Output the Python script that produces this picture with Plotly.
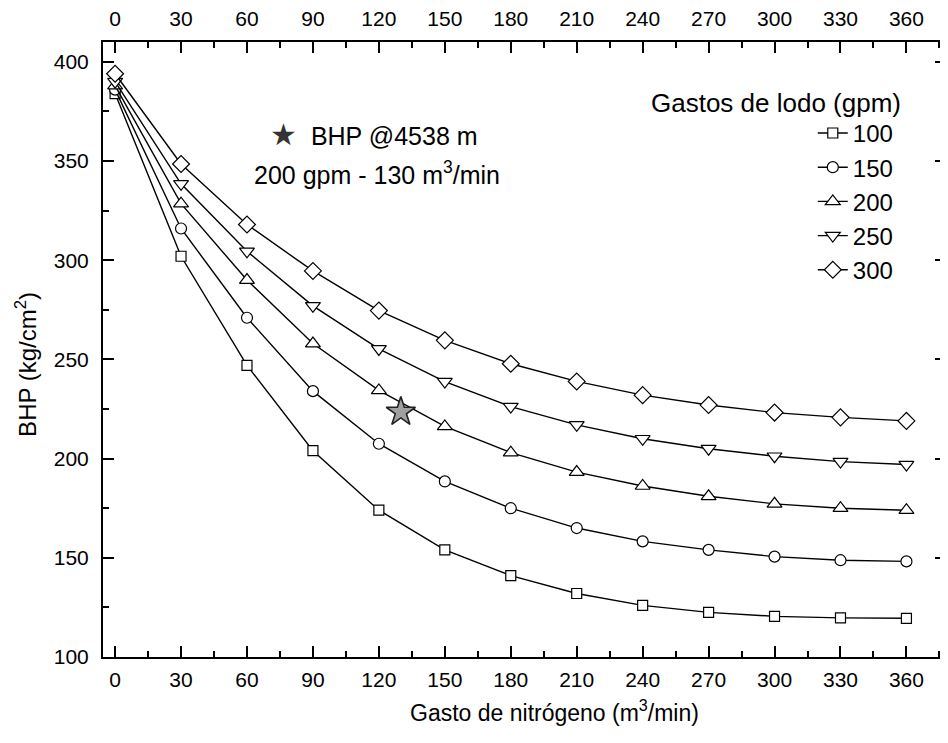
import plotly.graph_objects as go

gasto_n2 = [0, 30, 60, 90, 120, 150, 180, 210, 240, 270, 300, 330, 360]
bhp_100 = [384, 302, 247, 204, 174, 154, 141, 132, 126, 122.5, 120.5, 119.7, 119.5]
bhp_150 = [386, 316, 271, 234, 207.5, 188.5, 175, 165, 158.3, 154, 150.6, 148.8, 148.2]
bhp_200 = [388, 328.5, 290, 258, 234.4, 216.2, 203, 193.2, 186.2, 181, 177.2, 175, 174]
bhp_250 = [390, 338.5, 304.5, 277, 255.3, 238.8, 226.2, 217, 210, 205, 201.2, 198.5, 197]
bhp_300 = [394, 348.5, 318, 294.6, 274.6, 259.6, 247.8, 238.9, 232, 227, 223.2, 220.8, 219]
series_names = ["100", "150", "200", "250", "300"]
series_values = [bhp_100, bhp_150, bhp_200, bhp_250, bhp_300]
symbols = ["square", "circle", "triangle-up", "triangle-down", "diamond"]
sizes = [10, 11, 13, 13, 13]

star_x = [130]
star_y = [223.5]

x_ticks = list(range(0, 361, 30))
y_ticks = [100, 150, 200, 250, 300, 350, 400]

FONT = "Liberation Sans, Arial, sans-serif"

fig = go.Figure()
for name, vals, sym, sz in zip(series_names, series_values, symbols, sizes):
    fig.add_trace(go.Scatter(
        x=gasto_n2, y=vals, name=name, mode="lines+markers",
        line=dict(color="black", width=1.4),
        marker=dict(symbol=sym, size=sz, color="white", line=dict(color="black", width=1.2)),
    ))

fig.add_trace(go.Scatter(
    x=star_x, y=star_y, mode="markers", showlegend=False,
    marker=dict(symbol="star", size=22, color="#a0a0a0", line=dict(color="#222", width=1.6)),
))

# invisible trace to activate the top axis
fig.add_trace(go.Scatter(
    x=gasto_n2, y=bhp_100, xaxis="x2", mode="lines", showlegend=False,
    line=dict(color="rgba(0,0,0,0)"), hoverinfo="skip",
))

minor = dict(ticks="inside", ticklen=6, tickwidth=1.6, tickcolor="black")
axis_common = dict(
    showgrid=False, zeroline=False, showline=True, linecolor="black", linewidth=2,
    ticks="inside", ticklen=11, tickwidth=1.6, tickcolor="black", automargin=False,
    tickfont=dict(family=FONT, size=21, color="black"),
)

fig.update_layout(
    width=940, height=735,
    paper_bgcolor="white", plot_bgcolor="white",
    margin=dict(l=95, r=2, t=34, b=86),
    font=dict(family=FONT, color="black"),
    showlegend=True,
    xaxis=dict(**axis_common, range=[-5.5, 378], tickvals=x_ticks, ticklabelstandoff=3,
               minor=dict(dtick=15, tick0=0, **minor)),
    xaxis2=dict(**axis_common, range=[-5.5, 378], tickvals=x_ticks, overlaying="x", side="top",
                ticklabelstandoff=6, minor=dict(dtick=15, tick0=0, **minor)),
    yaxis=dict(**axis_common, range=[100, 410], tickvals=y_ticks, mirror="ticks",
               ticklabelstandoff=8, minor=dict(dtick=25, tick0=100, **minor)),
    legend=dict(
        x=0.944, y=0.888, xanchor="right", yanchor="top",
        bgcolor="rgba(0,0,0,0)", font=dict(family=FONT, size=24),
        tracegroupgap=0,
    ),
    annotations=[
        dict(text="Gastos de lodo (gpm)", xref="paper", yref="paper", x=0.949, y=0.901,
             xanchor="right", yanchor="middle", showarrow=False, font=dict(family=FONT, size=26)),
        dict(text="<span style='color:#333;font-size:30px'>★</span>  BHP @4538 m", xref="paper", yref="paper",
             x=0.322, y=0.849, xanchor="center", yanchor="middle", showarrow=False,
             font=dict(family=FONT, size=25)),
        dict(text="200 gpm - 130 m<sup>3</sup>/min", xref="paper", yref="paper",
             x=0.325, y=0.787, xanchor="center", yanchor="middle", showarrow=False,
             font=dict(family=FONT, size=25)),
        dict(text="Gasto de nitrógeno (m<sup>3</sup>/min)", xref="paper", yref="paper",
             x=0.5, y=0, xshift=30, yshift=-54, xanchor="center", yanchor="middle",
             showarrow=False, font=dict(family=FONT, size=23)),
        dict(text="BHP (kg/cm<sup>2</sup>)", xref="paper", yref="paper", textangle=-90,
             x=0, y=0.475, xshift=-77, xanchor="center", yanchor="middle",
             showarrow=False, font=dict(family=FONT, size=24)),
    ],
)

fig.write_html("out.html")
